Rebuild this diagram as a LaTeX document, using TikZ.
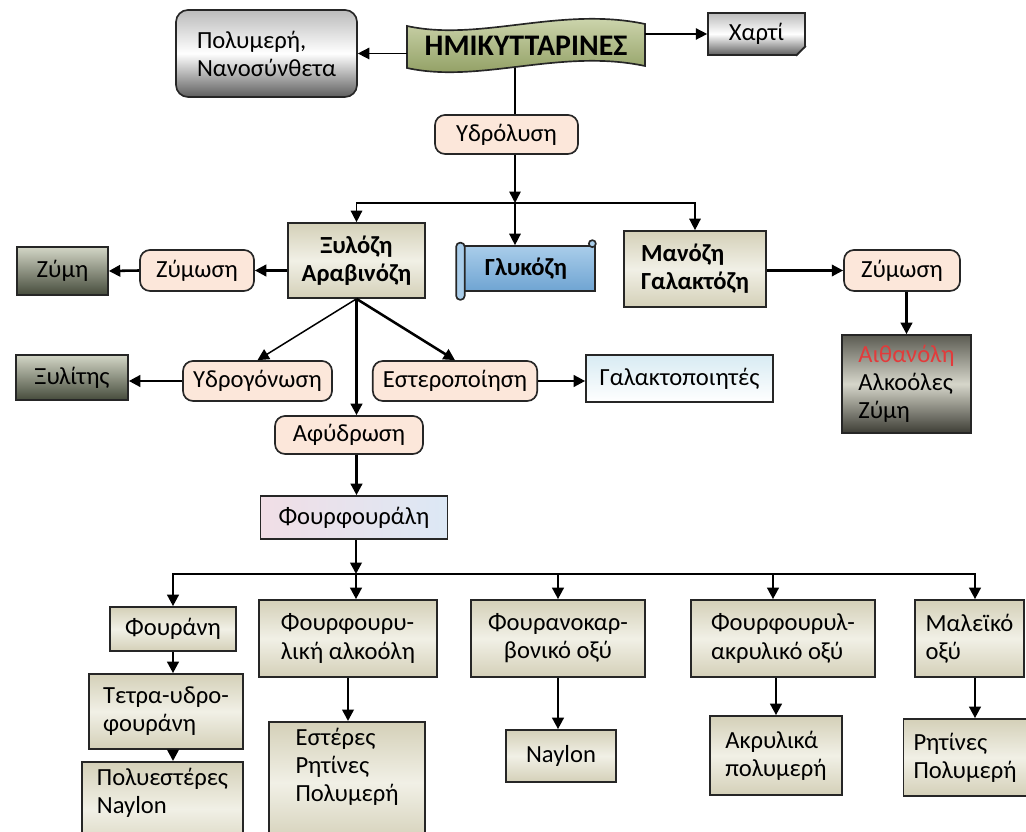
\documentclass[tikz,border=0pt]{standalone}
\usepackage{fontspec}
\setmainfont{Carlito}
\usetikzlibrary{arrows.meta}
\definecolor{peach}{HTML}{FCE7DA}
\definecolor{tantop}{HTML}{D4D0B8}
\definecolor{tanmid}{HTML}{F1F0E6}
\definecolor{oliveup}{HTML}{D9E0BC}
\definecolor{olivedn}{HTML}{879657}
\definecolor{mossup}{HTML}{D3D6C6}
\definecolor{mossdn}{HTML}{464C3C}
\definecolor{greyup}{HTML}{BBBBBB}
\definecolor{greydn}{HTML}{5E5E5E}
\definecolor{skyup}{HTML}{A9CDEA}
\definecolor{skydn}{HTML}{6FA4D2}
\definecolor{iceup}{HTML}{D8EBF3}
\definecolor{lilac}{HTML}{F1DEE6}
\definecolor{paleblue}{HTML}{DCE8F5}
\definecolor{smoketop}{HTML}{5B5B52}
\definecolor{smokemid}{HTML}{D6D6CA}
\definecolor{smokedn}{HTML}{3D3D35}
\definecolor{ethred}{HTML}{E23B3B}
\tikzset{
  box/.style={draw=black!85,line width=0.95pt,align=left,inner xsep=0.2cm,
    inner ysep=0.12cm,font=\fontsize{14}{16}\selectfont},
  bold/.style={font=\fontsize{14}{16}\selectfont\bfseries},
  proc/.style={box,rounded corners=0.2cm,fill=peach},
  tanbox/.style={box,top color=tantop,bottom color=tantop,middle color=tanmid},
  mossbox/.style={box,top color=mossup,bottom color=mossdn},
  greybox/.style={box,top color=greyup,bottom color=greydn,middle color=white},
  flow/.style={-{Triangle[length=6.5pt,width=6.5pt]},line width=1.45pt},
  thinflow/.style={flow,line width=0.85pt}
}
\begin{document}
\begin{tikzpicture}[x=1cm,y=1cm]
  \useasboundingbox (0,0) rectangle (20.52,-16.64);
  \clip (0,0) rectangle (20.52,-16.64);
  \path[draw=black!85,line width=0.95pt,top color=oliveup,bottom color=olivedn]
    (8.14,-0.52) .. controls (9.6,-0.84) and (11.2,-0.12) .. (12.9,-0.48)
    -- (12.9,-1.32) .. controls (11.2,-0.96) and (9.6,-1.68) .. (8.14,-1.36)
    -- cycle;
  \node[minimum width=4.76cm,minimum height=0.88cm,inner sep=0pt,
    font=\fontsize{17}{19}\selectfont\bfseries] (hemi) at (10.52,-0.92)
    {ΗΜΙΚΥΤΤΑΡΙΝΕΣ};
  \node[greybox,rounded corners=0.24cm,minimum width=3.62cm,
    minimum height=1.74cm] (poly) at (5.33,-1.07) {Πολυμερή,\\Νανοσύνθετα};
  \node[greybox,minimum width=1.94cm,minimum height=0.84cm] (xarti)
    at (15.13,-0.68) {Χαρτί};
  \fill[white] ([xshift=-0.2cm,yshift=-0.03cm]xarti.south east)
    -- ([xshift=0.03cm,yshift=-0.03cm]xarti.south east)
    -- ([xshift=0.03cm,yshift=0.2cm]xarti.south east) -- cycle;
  \draw[black!85,line width=0.95pt] ([xshift=-0.2cm]xarti.south east)
    -- ([yshift=0.2cm]xarti.south east);
  \draw[thinflow] (hemi.west |- poly.east) -- (poly.east);
  \draw[thinflow] (hemi.east |- xarti.west) -- (xarti.west);

  \node[proc,minimum width=2.86cm,minimum height=0.78cm] (ydr)
    at (10.13,-2.69) {Υδρόλυση};
  \coordinate (split) at (10.30,-4.06);
  \draw[line width=0.85pt] (hemi.south -| split) -- (ydr.north -| split);
  \draw[thinflow] (ydr.south -| split) -- (split);

  \node[tanbox,bold,align=center,minimum width=2.74cm,minimum height=1.5cm]
    (xyl) at (7.13,-5.21) {Ξυλόζη\\Αραβινόζη};
  \node[box,bold,top color=skyup,bottom color=skydn,minimum width=2.76cm,
    minimum height=0.9cm] (gluc) at (10.52,-5.37) {Γλυκόζη};
  \draw[draw=black!85,line width=0.95pt,fill=skyup,rounded corners=0.08cm]
    ([yshift=0.05cm]gluc.north west)
    rectangle ([xshift=0.17cm,yshift=-0.16cm]gluc.south west);
  \draw[draw=black!85,line width=0.95pt,fill=skyup]
    ([xshift=-0.07cm,yshift=0.03cm]gluc.north east) circle (0.07cm);
  \node[tanbox,bold,minimum width=2.84cm,minimum height=1.52cm] (man)
    at (13.9,-5.38) {Μανόζη\\Γαλακτόζη};
  \draw[thinflow] (split) -| (xyl.north);
  \draw[thinflow] (split) -| (man.north);
  \draw[thinflow] (split) -- (gluc.north -| split);

  \node[proc,minimum width=2.28cm,minimum height=0.82cm] (zym1)
    at (3.94,-5.41) {Ζύμωση};
  \node[mossbox,minimum width=1.82cm,minimum height=0.96cm] (zymi)
    at (1.25,-5.42) {Ζύμη};
  \draw[flow] (xyl.west |- zym1.east) -- (zym1.east);
  \draw[flow] (zym1.west) -- (zymi.east);

  \node[proc,minimum width=2.32cm,minimum height=0.82cm] (zym2)
    at (18.04,-5.41) {Ζύμωση};
  \node[box,top color=smoketop,bottom color=smokedn,middle color=smokemid,
    minimum width=2.58cm,minimum height=1.96cm] (ethan) at (18.13,-7.68)
    {\textcolor{ethred}{Αιθανόλη}\\Αλκοόλες\\Ζύμη};
  \draw[flow] (man.east |- zym2.west) -- (zym2.west);
  \draw[flow] (zym2.south -| ethan.north) -- (ethan.north);

  \node[proc,minimum width=2.98cm,minimum height=0.8cm] (ydrog)
    at (5.15,-7.62) {Υδρογόνωση};
  \node[proc,minimum width=3.28cm,minimum height=0.8cm] (ester)
    at (9.10,-7.62) {Εστεροποίηση};
  \node[proc,minimum width=2.96cm,minimum height=0.76cm] (afyd)
    at (6.98,-8.70) {Αφύδρωση};
  \node[mossbox,minimum width=2.24cm,minimum height=0.9cm] (xylit)
    at (1.44,-7.55) {Ξυλίτης};
  \node[box,top color=iceup,bottom color=white,minimum width=3.74cm,
    minimum height=0.94cm] (galak) at (13.59,-7.57) {Γαλακτοποιητές};
  \draw[thinflow] (xyl.south) -- (ydrog.north);
  \draw[flow] (xyl.south) -- (ester.north);
  \draw[flow] (xyl.south) -- (xyl.south |- afyd.north);
  \draw[flow] (ydrog.west) -- (ydrog.west -| xylit.east);
  \draw[flow] (ester.east) -- (ester.east -| galak.west);

  \node[box,left color=lilac,right color=paleblue,minimum width=3.74cm,
    minimum height=0.86cm] (furf) at (7.08,-10.35) {Φουρφουράλη};
  \draw[flow] (afyd.south -| xyl.south) -- (furf.north -| xyl.south);

  \coordinate (bus) at (7.12,-11.48);
  \coordinate (busR) at (19.5,-11.48);
  \node[tanbox,minimum width=2.52cm,minimum height=0.88cm] (fura)
    at (3.46,-12.58) {Φουράνη};
  \node[tanbox,minimum width=3.56cm,minimum height=1.54cm] (alc)
    at (6.96,-12.77) {Φουρφουρυ-\\λική αλκοόλη};
  \node[tanbox,align=center,minimum width=3.48cm,minimum height=1.54cm]
    (fcarb) at (11.16,-12.77) {Φουρανοκαρ-\\βονικό οξύ};
  \node[tanbox,minimum width=3.68cm,minimum height=1.54cm] (facr)
    at (15.66,-12.77) {Φουρφουρυλ-\\ακρυλικό οξύ};
  \node[tanbox,minimum width=2.18cm,minimum height=1.54cm] (male)
    at (19.39,-12.77) {Μαλεϊκό\\οξύ};
  \draw[flow] (furf.south -| bus) -- (bus);
  \draw[flow] (bus) -- (alc.north -| bus);
  \draw[flow] (bus) -| (fura.north);
  \draw[flow] (bus) -- (busR) -- (busR |- male.north);
  \draw[flow] (fcarb.north |- bus) -- (fcarb.north);
  \draw[flow] ([xshift=-0.2cm]facr.north |- bus) -- ([xshift=-0.2cm]facr.north);

  \node[tanbox,minimum width=3.08cm,minimum height=1.5cm] (tetra)
    at (3.32,-14.23) {Τετρα-υδρο-\\φουράνη};
  \node[tanbox,anchor=north,minimum width=3.22cm] (polyest)
    at (3.25,-15.22) {Πολυεστέρες\\Naylon\\\strut};
  \node[tanbox,anchor=north,minimum width=3.12cm] (ester2)
    at (6.94,-14.42) {Εστέρες\\Ρητίνες\\Πολυμερή\\\strut};
  \node[tanbox,minimum width=2.2cm,minimum height=1.04cm] (nay)
    at (11.22,-15.12) {Naylon};
  \node[tanbox,minimum width=2.64cm,minimum height=1.58cm] (acryl)
    at (15.52,-15.11) {Ακρυλικά\\πολυμερή};
  \node[tanbox,minimum width=2.36cm,minimum height=1.54cm] (resin)
    at (19.30,-15.15) {Ρητίνες\\Πολυμερή};
  \draw[flow] (fura.south -| fura.north) -- (tetra.north -| fura.north);
  \draw[flow] (tetra.south -| fura.north) -- (polyest.north -| fura.north);
  \draw[flow] (alc.south) -- (alc.south |- ester2.north);
  \draw[flow] (fcarb.south) -- (fcarb.south |- nay.north);
  \draw[flow] (acryl.north |- facr.south) -- (acryl.north);
  \draw[flow] (busR |- male.south) -- (busR |- resin.north);
\end{tikzpicture}
\end{document}
